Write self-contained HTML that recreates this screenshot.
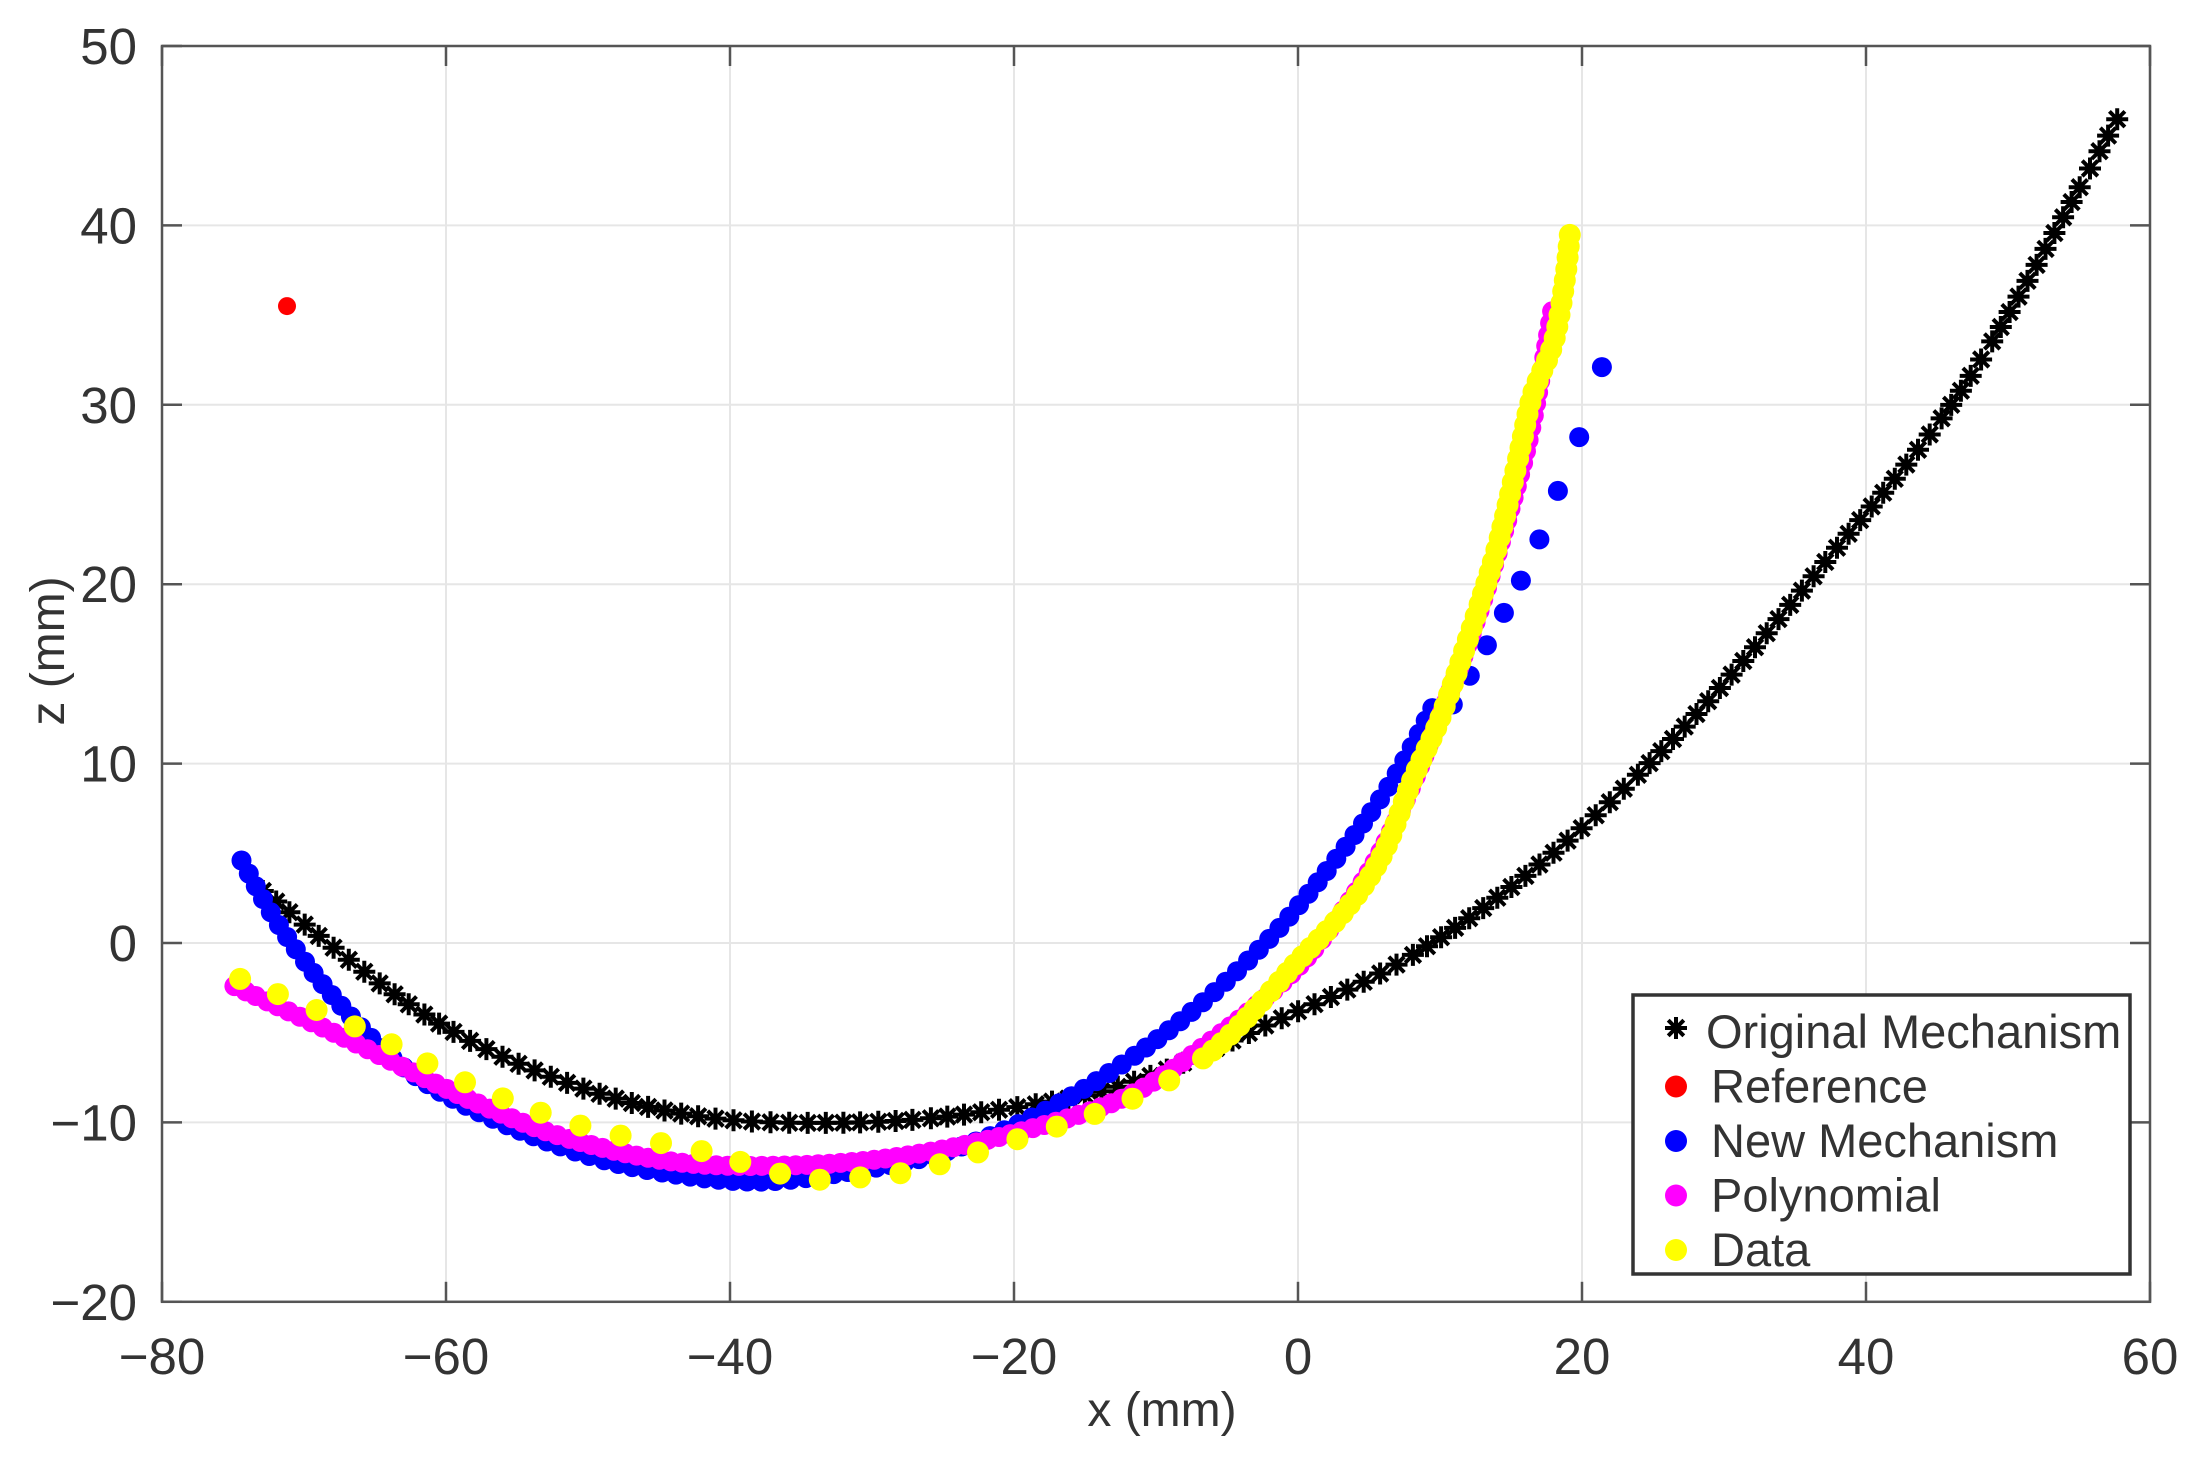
<!DOCTYPE html>
<html><head><meta charset="utf-8"><style>
html,body{margin:0;padding:0;background:#fff;}
svg{display:block;font-family:"Liberation Sans",Arial,sans-serif;}
</style></head><body>
<svg id="s" width="2208" height="1464" viewBox="0 0 2208 1464" xmlns="http://www.w3.org/2000/svg">
<rect width="2208" height="1464" fill="#fff"/>
<g id="grid" stroke="#e6e6e6" stroke-width="2"></g>
<g id="data"></g>
<g id="axes" fill="none" stroke="#555" stroke-width="2.5"></g>
<g id="labels" fill="#333" font-size="51"></g>
<text x="1162" y="1426" font-size="48" fill="#333" text-anchor="middle">x (mm)</text>
<text transform="translate(64,651) rotate(-90)" font-size="48" fill="#333" text-anchor="middle">z (mm)</text>
<g id="legend"></g>
</svg>
<script>
var NS="http://www.w3.org/2000/svg";
function X(x){return 162+(x+80)*14.2;}
function Y(z){return 46+(50-z)*17.94;}
function el(tag,attrs,parent,txt){var e=document.createElementNS(NS,tag);for(var k in attrs)e.setAttribute(k,attrs[k]);if(txt!==undefined)e.textContent=txt;parent.appendChild(e);return e;}
var grid=document.getElementById('grid'),axes=document.getElementById('axes'),labels=document.getElementById('labels'),data=document.getElementById('data'),leg=document.getElementById('legend');
var L=X(-80),R=X(60),T=Y(50),B=Y(-20);
for(var x=-60;x<=40;x+=20){el('line',{x1:X(x),y1:T,x2:X(x),y2:B},grid);}
for(var z=-10;z<=40;z+=10){el('line',{x1:L,y1:Y(z),x2:R,y2:Y(z)},grid);}
el('rect',{x:L,y:T,width:R-L,height:B-T},axes);
for(var x=-80;x<=60;x+=20){el('line',{x1:X(x),y1:B,x2:X(x),y2:B-20},axes);el('line',{x1:X(x),y1:T,x2:X(x),y2:T+20},axes);
 el('text',{x:X(x),y:B+72,'text-anchor':'middle'},labels,(x<0?'\u2212':'')+Math.abs(x));}
for(var z=-20;z<=50;z+=10){el('line',{x1:L,y1:Y(z),x2:L+20,y2:Y(z)},axes);el('line',{x1:R,y1:Y(z),x2:R-20,y2:Y(z)},axes);
 el('text',{x:L-25,y:Y(z)+18,'text-anchor':'end'},labels,(z<0?'\u2212':'')+Math.abs(z));}
function cr(pts,n){var out=[];var P=pts.map(function(p){return [X(p[0]),Y(p[1])];});
 for(var i=0;i<P.length-1;i++){var p0=P[Math.max(0,i-1)],p1=P[i],p2=P[i+1],p3=P[Math.min(P.length-1,i+2)];
  for(var j=0;j<n;j++){var t=j/n,t2=t*t,t3=t2*t;
   out.push([0.5*(2*p1[0]+(-p0[0]+p2[0])*t+(2*p0[0]-5*p1[0]+4*p2[0]-p3[0])*t2+(-p0[0]+3*p1[0]-3*p2[0]+p3[0])*t3),
             0.5*(2*p1[1]+(-p0[1]+p2[1])*t+(2*p0[1]-5*p1[1]+4*p2[1]-p3[1])*t2+(-p0[1]+3*p1[1]-3*p2[1]+p3[1])*t3)]);}}
 out.push(P[P.length-1]);return out;}
function sample(pts,spf){var d=cr(pts,60);var res=[d[0]];var acc=0;
 for(var i=1;i<d.length;i++){var dx=d[i][0]-d[i-1][0],dy=d[i][1]-d[i-1][1];acc+=Math.sqrt(dx*dx+dy*dy);
  if(acc>=spf(d[i])){res.push(d[i]);acc=0;}}return res;}
function dot(p,c,r){el('circle',{cx:p[0].toFixed(1),cy:p[1].toFixed(1),r:r,fill:c},data);}
function star(p,r,g){var s='';for(var k=0;k<4;k++){var a=k*Math.PI/4;var dx=r*Math.cos(a),dy=r*Math.sin(a);
 s+='M'+(p[0]-dx).toFixed(1)+' '+(p[1]-dy).toFixed(1)+'L'+(p[0]+dx).toFixed(1)+' '+(p[1]+dy).toFixed(1);}
 el('path',{d:s,stroke:'#000','stroke-width':4,fill:'none'},g);}
var black=[[-72.9,2.9],[-61.7,-3.9],[-51.8,-7.7],[-41.9,-9.7],[-31,-10],[-22,-9.4],[-12.2,-7.9],[-2.3,-4.6],[7.6,-0.9],[17.5,4.7],[27.4,12.2],[37.3,21.4],[47.2,31.4],[58.1,46.5]];
var blue=[[-74.4,4.6],[-71.6,0.8],[-67.6,-3.3],[-62.7,-7.1],[-56.7,-9.8],[-49.8,-11.9],[-43.9,-12.9],[-37.9,-13.3],[-32,-12.8],[-26,-11.9],[-20,-10.2],[-14.2,-7.7],[-8.2,-4.3],[-2.3,0],[2.7,4.7],[6.6,9],[9.6,13.3]];
var blueTail=[[10.9,13.3],[12.1,14.9],[13.3,16.6],[14.5,18.4],[15.7,20.2],[17.0,22.5],[18.3,25.2],[19.8,28.2],[21.4,32.1]];
var mag=[[-74.9,-2.4],[-66.6,-5.5],[-58.7,-8.6],[-51.8,-10.8],[-43.9,-12.2],[-35.9,-12.4],[-28,-11.9],[-20,-10.6],[-12.2,-8.6],[-6.2,-5.5],[-0.3,-1.6],[3.7,2.4],[6.6,6.3],[9.6,11.8],[12.6,18.1],[15,24.3],[16.5,29],[18,35.7]];
var yel=[[-74.5,-2],[-66,-4.8],[-58,-8],[-50,-10.3],[-42,-11.6],[-35,-13.1],[-30,-13],[-26,-12.5],[-20,-11],[-12,-8.8],[-6,-6],[0,-1],[3.5,2],[6,5],[8,9],[10,12.5],[12,17],[14,22],[15.5,27],[16.5,30.5],[18,33.5],[18.8,37],[19.2,40]];
var gb=el('g',{},data);
sample(black,function(){return 16.5;}).forEach(function(p){star(p,11,gb);});
dot([X(-71.2),Y(35.5)],'#ff0000',9);
sample(blue,function(){return 14;}).forEach(function(p){dot(p,'#0000ff',10);});
blueTail.forEach(function(q){dot([X(q[0]),Y(q[1])],'#0000ff',10);});
sample(mag,function(){return 11;}).forEach(function(p){dot(p,'#ff00ff',10);});
var x6=X(-6);
sample(yel,function(p){return p[0]<x6?40:11;}).forEach(function(p){dot(p,'#ffff00',11);});
// legend
el('rect',{x:1633,y:995,width:497,height:279,fill:'#fff',stroke:'#333','stroke-width':3.5},leg);
var items=[['Original Mechanism','star'],['Reference','#ff0000'],['New Mechanism','#0000ff'],['Polynomial','#ff00ff'],['Data','#ffff00']];
items.forEach(function(it,i){var cy=1032+i*54.5;
 if(it[1]=='star'){star([1676,cy-4],11,leg);}else{el('circle',{cx:1676,cy:cy,r:11,fill:it[1]},leg);}
 el('text',{x:i==0?1706:1711,y:cy+16,'font-size':47,fill:'#333'},leg,it[0]);});
</script>
</body></html>
